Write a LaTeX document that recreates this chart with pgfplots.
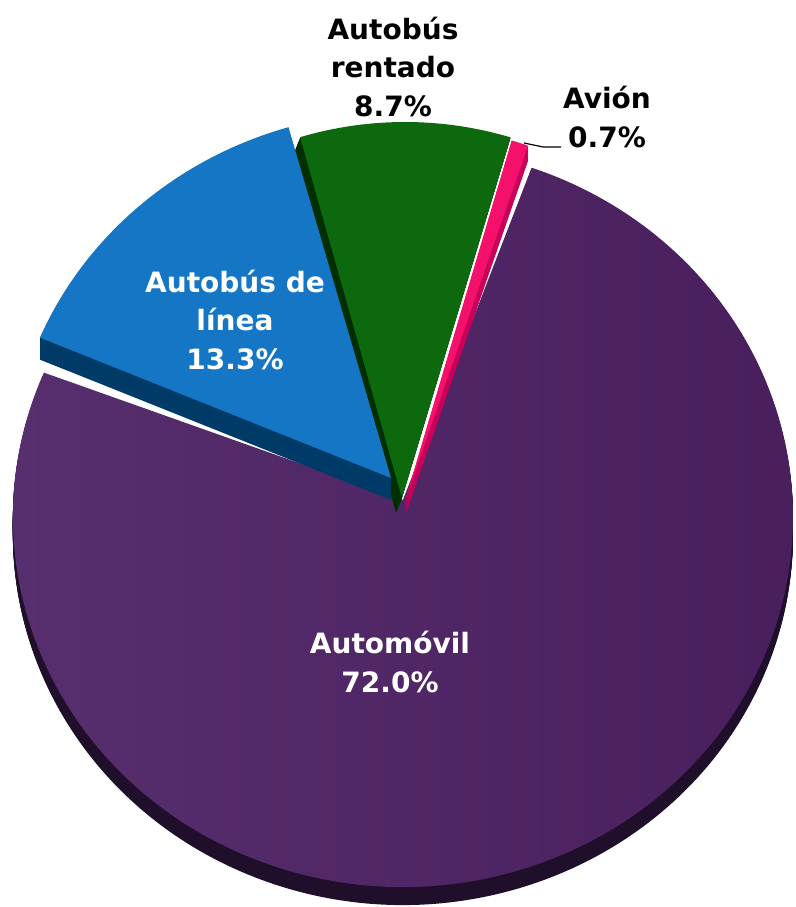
\documentclass[border=0pt]{standalone}
\usepackage{pgfplots}
\usepackage{pgfplotstable}
\pgfplotsset{compat=1.18}
\usepackage{fontspec}
\setmainfont{DejaVu Sans}

\definecolor{autoL}{HTML}{59306F}
\definecolor{autoR}{HTML}{481E5D}
\definecolor{autoSide}{HTML}{1F0F2B}
\definecolor{lineaTop}{HTML}{1476C4}
\definecolor{lineaSide}{HTML}{003A66}
\definecolor{rentTop}{HTML}{0D690D}
\definecolor{rentSide}{HTML}{022F02}
\definecolor{avionTop}{HTML}{F5106B}
\definecolor{avionSide}{HTML}{C8005A}

% share by mode of transport (%)
\pgfplotstableread{
name      value
Automovil 72.0
Linea     13.3
Rentado   8.7
Avion     0.7
}\sharetable

% apexX apexY centreX centreY startangle endangle xradius yradius style
\newcommand\slice[9]{%
  \path[#9] (axis cs:#1,#2) -- (axis cs:{#3+#7*cos(#5)},{#4+#8*sin(#5)})
    arc[start angle=#5, end angle=#6, x radius=#7, y radius=#8] -- cycle;}

\begin{document}
\begin{tikzpicture}
\pgfplotstablegetelem{0}{value}\of\sharetable \let\vAuto\pgfplotsretval
\pgfplotstablegetelem{1}{value}\of\sharetable \let\vLin\pgfplotsretval
\pgfplotstablegetelem{2}{value}\of\sharetable \let\vRen\pgfplotsretval
\pgfplotstablegetelem{3}{value}\of\sharetable \let\vAv\pgfplotsretval
\pgfmathsetmacro\tot{\vAuto+\vLin+\vRen+\vAv}
\pgfmathsetmacro\aR{73.4}
\pgfmathsetmacro\aL{\aR+360*(\vRen/\tot)}
\pgfmathsetmacro\aA{\aL+360*(\vLin/\tot)}
\pgfmathsetmacro\aV{\aA+360*(\vAuto/\tot)}
\pgfmathsetmacro\aE{\aV+360*(\vAv/\tot)}
\begin{axis}[
  width=597pt, height=680.25pt, scale only axis,
  xmin=0, xmax=796, ymin=0, ymax=907,
  hide axis, clip=false,
  ]
  % Automovil
  \pgfplotsinvokeforeach{1,...,18}{\slice{403}{407-#1}{403}{390-#1}{\aA}{\aV}{390}{370}{fill=autoSide}}
  \slice{403}{407}{403}{390}{\aA}{\aV}{390}{370}{left color=autoL, right color=autoR}
  % Autobus rentado and Avion
  \pgfplotsinvokeforeach{1,...,15}{\slice{402-0.4*#1}{409-#1}{405-0.4*#1}{415-#1}{\aR}{\aL}{370}{370}{fill=rentSide}}
  \pgfplotsinvokeforeach{1,...,15}{\slice{405}{406-#1}{406}{412-#1}{\aV}{\aE}{370}{370}{fill=avionSide}}
  \slice{402}{409}{405}{415}{\aR}{\aL}{370}{370}{fill=rentTop}
  \slice{405}{406}{406}{412}{\aV}{\aE}{370}{370}{fill=avionTop}
  % Autobus de linea
  \pgfplotsinvokeforeach{1,...,22}{\slice{391}{429-#1}{399}{425-#1}{\aL}{\aA}{390}{370}{fill=lineaSide}}
  \slice{391}{429}{399}{425}{\aL}{\aA}{390}{370}{fill=lineaTop}

  \draw[black, line width=0.9pt] (axis cs:524,764) -- (axis cs:543,760) -- (axis cs:561,760);

  \begin{scope}[every node/.style={font=\fontsize{21}{28.9}\selectfont\bfseries, align=center}]
  \node[black] at (axis cs:393,840) {Autobús\\rentado\\8.7\%};
  \node[black] at (axis cs:607,790) {Avión\\0.7\%};
  \node[white] at (axis cs:235,587) {Autobús de\\línea\\13.3\%};
  \node[white] at (axis cs:390,245) {Automóvil\\72.0\%};
  \end{scope}
\end{axis}
\pgfresetboundingbox
\path (current axis.south west) rectangle (current axis.north east);
\end{tikzpicture}
\end{document}
